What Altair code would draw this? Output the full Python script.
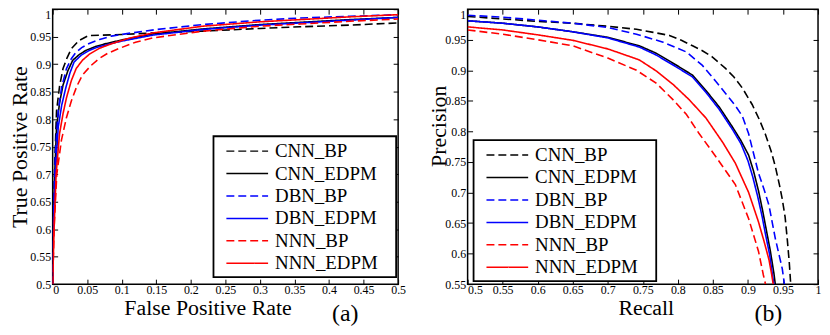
import altair as alt
import pandas as pd

SERIES = ["CNN_BP", "CNN_EDPM", "DBN_BP", "DBN_EDPM", "NNN_BP", "NNN_EDPM"]
COLORS = ["#000000", "#000000", "#0000ff", "#0000ff", "#ff0000", "#ff0000"]
DASHES = [[8, 4], [1, 0], [8, 4], [1, 0], [8, 4], [1, 0]]

# ---- (a) ROC curves: false positive rate / true positive rate ----
roc_cnn_bp_fpr = [0, 0.001, 0.003, 0.0056, 0.01, 0.015, 0.021, 0.027, 0.038, 0.052, 0.1, 0.15, 0.217, 0.3, 0.358, 0.43, 0.5]
roc_cnn_bp_tpr = [0.5, 0.6, 0.72, 0.815, 0.86, 0.892, 0.912, 0.928, 0.943, 0.952, 0.954, 0.957, 0.96, 0.965, 0.968, 0.971, 0.975]

roc_cnn_edpm_fpr = [0, 0.001, 0.003, 0.0056, 0.01, 0.015, 0.022, 0.029, 0.038, 0.048, 0.062, 0.076, 0.1, 0.146, 0.217, 0.3, 0.358, 0.43, 0.5]
roc_cnn_edpm_tpr = [0.5, 0.6, 0.7, 0.785, 0.83, 0.862, 0.888, 0.907, 0.917, 0.925, 0.932, 0.937, 0.944, 0.955, 0.964, 0.972, 0.976, 0.981, 0.985]

roc_dbn_bp_fpr = [0, 0.001, 0.004, 0.008, 0.013, 0.02, 0.027, 0.034, 0.042, 0.052, 0.068, 0.085, 0.11, 0.15, 0.217, 0.3, 0.358, 0.43, 0.5]
roc_dbn_bp_tpr = [0.5, 0.62, 0.74, 0.815, 0.858, 0.892, 0.91, 0.922, 0.93, 0.937, 0.945, 0.951, 0.956, 0.963, 0.972, 0.98, 0.984, 0.987, 0.99]

roc_dbn_edpm_fpr = [0, 0.001, 0.004, 0.008, 0.013, 0.019, 0.025, 0.031, 0.041, 0.053, 0.065, 0.08, 0.1, 0.146, 0.217, 0.3, 0.358, 0.43, 0.5]
roc_dbn_edpm_tpr = [0.5, 0.6, 0.7, 0.785, 0.825, 0.857, 0.884, 0.904, 0.916, 0.925, 0.931, 0.936, 0.942, 0.953, 0.963, 0.971, 0.975, 0.98, 0.985]

roc_nnn_bp_fpr = [0, 0.002, 0.006, 0.0127, 0.02, 0.027, 0.035, 0.043, 0.055, 0.067, 0.08, 0.095, 0.12, 0.146, 0.217, 0.3, 0.358, 0.43, 0.5]
roc_nnn_bp_tpr = [0.5, 0.6, 0.7, 0.762, 0.803, 0.833, 0.86, 0.88, 0.897, 0.91, 0.92, 0.928, 0.94, 0.948, 0.96, 0.969, 0.973, 0.978, 0.982]

roc_nnn_edpm_fpr = [0, 0.002, 0.005, 0.01, 0.015, 0.02, 0.027, 0.034, 0.043, 0.053, 0.068, 0.085, 0.11, 0.146, 0.217, 0.3, 0.358, 0.43, 0.5]
roc_nnn_edpm_tpr = [0.5, 0.6, 0.7, 0.774, 0.81, 0.839, 0.87, 0.892, 0.907, 0.918, 0.929, 0.937, 0.947, 0.957, 0.969, 0.977, 0.981, 0.986, 0.99]

# ---- (b) precision / recall curves ----
pr_cnn_bp_rec = [0.5, 0.55, 0.6, 0.65, 0.7, 0.741, 0.765, 0.788, 0.805, 0.821, 0.835, 0.849, 0.868, 0.88, 0.892, 0.906, 0.916, 0.925, 0.933, 0.939, 0.945, 0.949, 0.953, 0.956, 0.959, 0.961]
pr_cnn_bp_prec = [0.988, 0.984, 0.98, 0.977, 0.972, 0.967, 0.962, 0.957, 0.949, 0.94, 0.932, 0.922, 0.903, 0.889, 0.871, 0.844, 0.82, 0.795, 0.768, 0.743, 0.712, 0.689, 0.66, 0.625, 0.585, 0.55]

pr_cnn_edpm_rec = [0.5, 0.55, 0.6, 0.65, 0.7, 0.745, 0.769, 0.797, 0.821, 0.84, 0.859, 0.878, 0.89, 0.901, 0.908, 0.915, 0.921, 0.926, 0.932, 0.937, 0.939]
pr_cnn_edpm_prec = [0.981, 0.977, 0.971, 0.963, 0.954, 0.94, 0.928, 0.909, 0.892, 0.867, 0.84, 0.807, 0.785, 0.761, 0.735, 0.703, 0.67, 0.64, 0.604, 0.568, 0.55]

pr_dbn_bp_rec = [0.5, 0.55, 0.6, 0.65, 0.7, 0.741, 0.779, 0.812, 0.835, 0.854, 0.873, 0.882, 0.892, 0.901, 0.915, 0.923, 0.93, 0.939, 0.945, 0.949, 0.952]
pr_dbn_bp_prec = [0.99, 0.987, 0.982, 0.977, 0.97, 0.959, 0.946, 0.93, 0.908, 0.882, 0.855, 0.842, 0.825, 0.796, 0.732, 0.705, 0.679, 0.625, 0.595, 0.575, 0.55]

pr_dbn_edpm_rec = [0.5, 0.55, 0.6, 0.65, 0.7, 0.745, 0.769, 0.797, 0.821, 0.84, 0.859, 0.878, 0.89, 0.9, 0.907, 0.914, 0.92, 0.925, 0.931, 0.935, 0.937]
pr_dbn_edpm_prec = [0.981, 0.977, 0.971, 0.963, 0.953, 0.938, 0.925, 0.906, 0.889, 0.864, 0.836, 0.803, 0.78, 0.752, 0.725, 0.693, 0.662, 0.632, 0.598, 0.565, 0.55]

pr_nnn_bp_rec = [0.5, 0.55, 0.6, 0.65, 0.7, 0.741, 0.769, 0.793, 0.812, 0.83, 0.854, 0.882, 0.901, 0.915, 0.922, 0.925]
pr_nnn_bp_prec = [0.966, 0.959, 0.95, 0.94, 0.92, 0.9, 0.879, 0.852, 0.828, 0.797, 0.759, 0.713, 0.657, 0.604, 0.565, 0.55]

pr_nnn_edpm_rec = [0.5, 0.55, 0.6, 0.65, 0.7, 0.745, 0.769, 0.793, 0.816, 0.84, 0.864, 0.882, 0.901, 0.915, 0.923, 0.93, 0.934, 0.936]
pr_nnn_edpm_prec = [0.971, 0.966, 0.958, 0.949, 0.935, 0.917, 0.899, 0.877, 0.852, 0.822, 0.782, 0.748, 0.7, 0.652, 0.62, 0.59, 0.565, 0.55]

# ---- ticks ----
roc_xticks = [0, 0.05, 0.1, 0.15, 0.2, 0.25, 0.3, 0.35, 0.4, 0.45, 0.5]
roc_yticks = [0.5, 0.55, 0.6, 0.65, 0.7, 0.75, 0.8, 0.85, 0.9, 0.95, 1]
pr_xticks = [0.5, 0.55, 0.6, 0.65, 0.7, 0.75, 0.8, 0.85, 0.9, 0.95, 1]
pr_yticks = [0.55, 0.6, 0.65, 0.7, 0.75, 0.8, 0.85, 0.9, 0.95, 1]


def frame(pairs):
    rows = []
    for name, (xs, ys) in zip(SERIES, pairs):
        for i, (a, b) in enumerate(zip(xs, ys)):
            rows.append({"series": name, "x": a, "y": b, "i": i})
    return pd.DataFrame(rows)


roc_df = frame([
    (roc_cnn_bp_fpr, roc_cnn_bp_tpr), (roc_cnn_edpm_fpr, roc_cnn_edpm_tpr),
    (roc_dbn_bp_fpr, roc_dbn_bp_tpr), (roc_dbn_edpm_fpr, roc_dbn_edpm_tpr),
    (roc_nnn_bp_fpr, roc_nnn_bp_tpr), (roc_nnn_edpm_fpr, roc_nnn_edpm_tpr),
])
pr_df = frame([
    (pr_cnn_bp_rec, pr_cnn_bp_prec), (pr_cnn_edpm_rec, pr_cnn_edpm_prec),
    (pr_dbn_bp_rec, pr_dbn_bp_prec), (pr_dbn_edpm_rec, pr_dbn_edpm_prec),
    (pr_nnn_bp_rec, pr_nnn_bp_prec), (pr_nnn_edpm_rec, pr_nnn_edpm_prec),
])

FONT = "Liberation Serif"
H = 277
PAD = "\u00a0\u00a0\u00a0\u200b"


def legend(leg_x, leg_y):
    return alt.Legend(
        title=None, orient="none", legendX=leg_x, legendY=leg_y,
        symbolType="M-2.1,0H2.1", symbolSize=400,
        symbolStrokeWidth=1.5, symbolOffset=19, labelOffset=17,
        labelFont=FONT, labelFontSize=19, labelColor="black",
        strokeColor="black", fillColor="white", padding=4,
        rowPadding=1.6,
        labelExpr="datum.label + '%s'" % PAD)


def panel(df, W, xdom, ydom, xticks, yticks, xtitle, ytitle, xtitle_x, ytitle_y,
          ytitle_pad, leg_x, leg_y, tag, tag_dx):
    xs = alt.Scale(domain=xdom, zero=False, nice=False)
    ys = alt.Scale(domain=ydom, zero=False, nice=False)
    base = alt.Chart(df)
    first = xticks[0]
    lines = base.mark_line(clip=True, strokeWidth=1.6).encode(
        x=alt.X("x:Q", scale=xs, axis=alt.Axis(
            orient="bottom", values=xticks, ticks=False, domain=False, grid=False,
            format="~g", labelPadding=0, title=xtitle, titleX=xtitle_x, titleY=31,
            titleBaseline="alphabetic",
            labelAlign={"expr": "datum.value == %s ? 'left' : 'center'" % first})),
        y=alt.Y("y:Q", scale=ys, axis=alt.Axis(
            orient="left", values=yticks, ticks=False, domain=False, grid=False,
            format="~g", labelPadding=2, title=ytitle, titlePadding=ytitle_pad,
            titleY=ytitle_y, titleBaseline="alphabetic",
            labelBaseline={"expr": "datum.value == 1 ? 'top' : 'middle'"})),
        color=alt.Color("series:N", scale=alt.Scale(domain=SERIES, range=COLORS),
                        legend=legend(leg_x, leg_y)),
        strokeDash=alt.StrokeDash("series:N", scale=alt.Scale(domain=SERIES, range=DASHES),
                                  legend=legend(leg_x, leg_y)),
        order="i:Q",
    )
    ticks_a = base.mark_point(opacity=0, size=1).encode(
        x=alt.X("x:Q", scale=xs, axis=alt.Axis(
            orient="top", offset=-H, values=xticks, labels=False, ticks=True,
            tickSize=5, domain=False, grid=False, title=None)),
        y=alt.Y("y:Q", scale=ys, axis=alt.Axis(
            orient="right", offset=-W, values=yticks, labels=False, ticks=True,
            tickSize=5, domain=False, grid=False, title=None)),
    )
    ticks_b = base.mark_point(opacity=0, size=1).encode(
        x=alt.X("x:Q", scale=xs, axis=alt.Axis(
            orient="bottom", offset=-H, values=xticks, labels=False, ticks=True,
            tickSize=5, domain=False, grid=False, title=None)),
        y=alt.Y("y:Q", scale=ys, axis=alt.Axis(
            orient="left", offset=-W, values=yticks, labels=False, ticks=True,
            tickSize=5, domain=False, grid=False, title=None)),
    )
    return alt.layer(lines, ticks_a, ticks_b).resolve_axis(
        x="independent", y="independent"
    ).properties(
        width=W, height=H,
        title=alt.TitleParams(tag, orient="bottom", anchor="end", frame="group",
                              baseline="alphabetic", offset=2, dx=tag_dx,
                              font=FONT, fontSize=24, fontWeight="normal", color="black"),
    )


WA = 348
WB = 353
left = panel(roc_df, WA, [0, 0.5], [0.5, 1], roc_xticks, roc_yticks,
             "False Positive Rate", "True Positive Rate", 156, H / 2, 3,
             162, 128, "(a)", -40)
right = panel(pr_df, WB, [0.5, 1], [0.55, 1], pr_xticks, pr_yticks,
              "Recall", "Precision", 179.5, 117.5, -1,
              6, 132, "(b)", -36)

chart = alt.hconcat(left, right, spacing=70, bounds="flush").resolve_legend(
    color="independent", strokeDash="independent"
).properties(
    padding={"left": 0, "top": -2, "right": 0, "bottom": 0}
).configure_view(
    stroke="black", strokeWidth=1.5
).configure_axis(
    labelFont=FONT, labelFontSize=12, labelColor="black",
    titleFont=FONT, titleFontSize=22, titleFontWeight="normal", titleColor="black",
    tickColor="black", tickWidth=1,
).configure_legend(
    strokeWidth=1.8
)

chart.save("out.html", embed_options={"renderer": "svg", "actions": False})
